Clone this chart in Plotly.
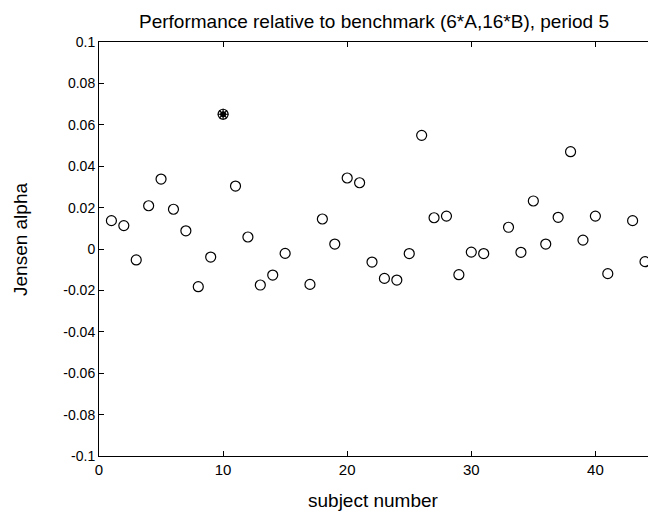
import plotly.graph_objects as go

subjects = [1, 2, 3, 4, 5, 6, 7, 8, 9, 10, 11, 12, 13, 14, 15,
            17, 18, 19, 20, 21, 22, 23, 24, 25, 26, 27, 28, 29, 30, 31,
            33, 34, 35, 36, 37, 38, 39, 40, 41, 43, 44]
alpha = [0.0137, 0.0113, -0.0053, 0.0209, 0.0338, 0.0192, 0.0088, -0.0182, -0.0039, 0.0651,
         0.0304, 0.0058, -0.0174, -0.0126, -0.0021,
         -0.0171, 0.0145, 0.0024, 0.0343, 0.0320, -0.0063, -0.0142, -0.0150, -0.0022, 0.0549,
         0.0151, 0.0159, -0.0124, -0.0015, -0.0022,
         0.0105, -0.0016, 0.0232, 0.0024, 0.0153, 0.0470, 0.0043, 0.0159, -0.0119, 0.0137, -0.0061]

highlight_subject = [10]
highlight_alpha = [0.0651]

y_tickvals = [0.1, 0.08, 0.06, 0.04, 0.02, 0, -0.02, -0.04, -0.06, -0.08, -0.1]
y_ticktext = ["0.1", "0.08", "0.06", "0.04", "0.02", "0", "-0.02", "-0.04", "-0.06", "-0.08", "-0.1"]
x_tickvals = [0, 10, 20, 30, 40]
x_ticktext = ["0", "10", "20", "30", "40"]

FONT = "Liberation Sans, Arial, sans-serif"
W, H = 648, 512
L, R, T, B = 99, 0, 42, 56

fig = go.Figure()
fig.add_trace(go.Scatter(
    x=subjects, y=alpha, mode="markers",
    marker=dict(symbol="circle-open", size=10, color="black", line=dict(width=1.2, color="black")),
    showlegend=False, hoverinfo="x+y"))
fig.add_trace(go.Scatter(
    x=highlight_subject, y=highlight_alpha, mode="markers",
    marker=dict(symbol="circle", size=6, color="black"),
    showlegend=False))
fig.add_trace(go.Scatter(
    x=highlight_subject, y=highlight_alpha, mode="markers",
    marker=dict(symbol="asterisk-open", size=9, color="black", line=dict(width=1.2, color="black")),
    showlegend=False))

pw = W - L - R
ph = H - T - B
fig.update_layout(
    width=W, height=H,
    margin=dict(l=L, r=R, t=T, b=B, autoexpand=False),
    paper_bgcolor="white", plot_bgcolor="white",
    font=dict(family=FONT, size=13, color="black"),
    xaxis=dict(range=[0, 44.24], tickvals=x_tickvals, ticktext=x_ticktext,
               ticks="inside", ticklen=5, tickwidth=1, tickcolor="black",
               showline=True, linecolor="black", linewidth=1, mirror="ticks",
               showgrid=False, zeroline=False, automargin=False,
               tickfont=dict(size=15)),
    yaxis=dict(range=[-0.1, 0.1], tickvals=y_tickvals, ticktext=y_ticktext,
               ticks="inside", ticklen=5, tickwidth=1, tickcolor="black",
               showline=True, linecolor="black", linewidth=1, mirror=False,
               showgrid=False, zeroline=False, automargin=False,
               tickfont=dict(size=14)),
    annotations=[
        dict(text="Performance relative to benchmark (6*A,16*B), period 5",
             xref="paper", yref="paper", x=(374 - L) / pw, y=1 + (T - 21) / ph,
             xanchor="center", yanchor="middle", showarrow=False,
             font=dict(family=FONT, size=19, color="black")),
        dict(text="subject number",
             xref="paper", yref="paper", x=(373 - L) / pw, y=-(500 - (H - B)) / ph,
             xanchor="center", yanchor="middle", showarrow=False,
             font=dict(family=FONT, size=19, color="black")),
        dict(text="Jensen alpha", textangle=-90,
             xref="paper", yref="paper", x=-(L - 20) / pw, y=(H - B - 240) / ph,
             xanchor="center", yanchor="middle", showarrow=False,
             font=dict(family=FONT, size=19, color="black")),
    ],
)

fig.write_html("out.html",
               config={"displayModeBar": False},
               post_script="document.body.style.margin='0';document.body.style.overflow='hidden';")
